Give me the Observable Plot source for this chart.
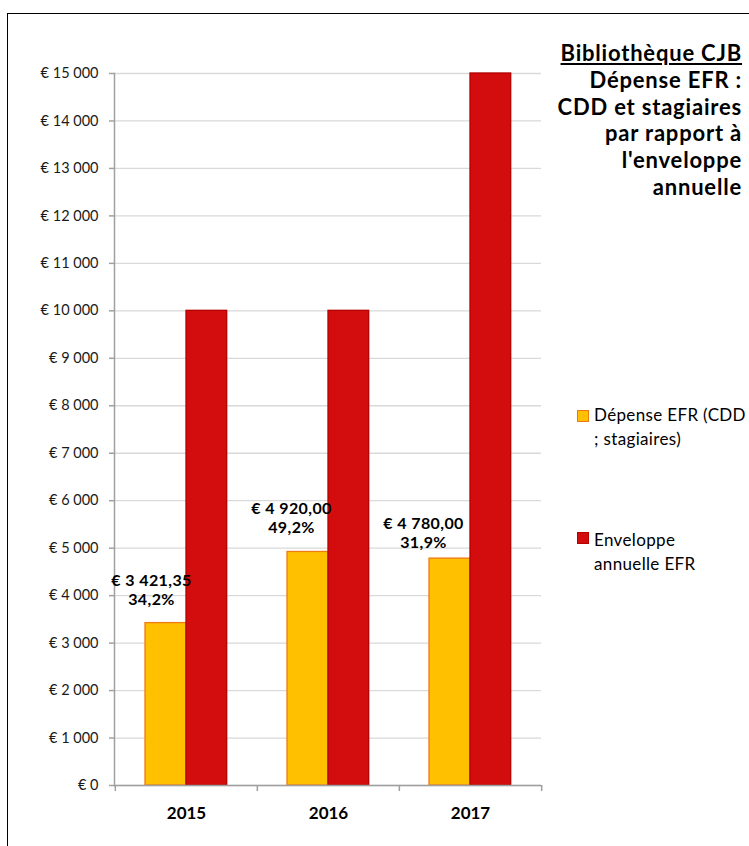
<!DOCTYPE html>
<html><head><meta charset="utf-8">
<script src="https://cdn.jsdelivr.net/npm/d3@7"></script>
<script src="https://cdn.jsdelivr.net/npm/@observablehq/plot@0.6"></script>
<style>
body{margin:0;background:#fff;font-family:Lato, "Open Sans", sans-serif;}
#wrap{position:relative;width:749px;height:846px;overflow:hidden;background:#fff;}
#border{position:absolute;left:7px;top:13px;width:800px;height:900px;border-left:1px solid #000;border-top:1px solid #000;pointer-events:none;}
#chart{position:absolute;left:0;top:0;}
#title{position:absolute;right:7px;top:40px;text-align:right;font-weight:bold;font-size:22px;line-height:26.8px;letter-spacing:0.8px;color:#000;white-space:nowrap;}
#title .u{text-decoration:underline;}
.leg{position:absolute;left:594px;font-size:17px;line-height:24px;color:#000;white-space:nowrap;letter-spacing:0.35px;}
.sw{position:absolute;left:577px;width:10px;height:10px;}
</style>
</head><body>
<div id="wrap">
  <div id="chart"></div>
  <div id="border"></div>
  <div id="title"></div>
  <div id="legend"></div>
</div>
<script>
// ---- data ----
const years = ["2015", "2016", "2017"];
const depense = [3421.35, 4920.00, 4780.00];
const enveloppe = [10000, 10000, 15000];
const yTicks = d3.range(0, 15001, 1000);
const seriesNames = ["Dépense EFR (CDD\n; stagiaires)", "Enveloppe\nannuelle EFR"];
const titleLines = ["Bibliothèque CJB", "Dépense EFR :", "CDD et stagiaires", "par rapport à", "l'enveloppe", "annuelle"];

// ---- layout / style ----
const colors = {yFill: "#FFC000", yStroke: "#EE7A12", rFill: "#D30D0D", rStroke: "#B40000"};
const labelNudge = [[-35, -34], [-37, -35], [-47, -26]];

const loc = d3.formatLocale({decimal: ",", thousands: "\u00a0", grouping: [3], currency: ["€ ", ""]});
const fmtInt = loc.format(",");
const fmtMoney = loc.format(",.2f");

const rows = years.map((y, i) => ({year: y, dep: depense[i], env: enveloppe[i]}));
const W = 749, H = 846, mL = 114, mR = 208, mT = 73, mB = 61;
const bw = (W - mL - mR) / years.length;

const marks = [
  Plot.gridY({ticks: yTicks, stroke: "#d9d9d9", strokeOpacity: 1, strokeWidth: 1.3}),
  Plot.barY(rows, {x: "year", y: "dep", fill: colors.yFill, stroke: colors.yStroke, strokeWidth: 1.3, insetLeft: 30, insetRight: 71.3}),
  Plot.barY(rows, {x: "year", y: "env", fill: colors.rFill, stroke: colors.rStroke, strokeWidth: 1.3, insetLeft: 71, insetRight: 30.3}),
  Plot.frame({anchor: "left", stroke: "#a0a0a0", strokeWidth: 1.5}),
  Plot.ruleY([0], {stroke: "#a0a0a0", strokeWidth: 1.5}),
  Plot.ruleX(years, {x: d => d, y1: 0, y2: 0, insetBottom: -6, dx: -bw / 2, stroke: "#a0a0a0", strokeWidth: 1.5}),
  Plot.ruleX(years.slice(-1), {x: d => d, y1: 0, y2: 0, insetBottom: -6, dx: bw / 2, stroke: "#a0a0a0", strokeWidth: 1.5}),
  Plot.axisY({ticks: yTicks, tickSize: 5, tickPadding: 11, tickFormat: d => "€\u00a0" + fmtInt(d), fontSize: 14.5, stroke: "#a0a0a0", strokeWidth: 1.5, fill: "#1a1a1a", label: null}),
  Plot.text(years, {x: d => d, y: 0, dy: 28, text: d => d, fontSize: 17, fontWeight: "bold", lineAnchor: "middle", fill: "#000"}),
  ...rows.map((r, i) => Plot.text([r], {
    x: "year", y: "dep",
    text: d => "€\u00a0" + fmtMoney(d.dep) + "\n" + (d.dep / d.env * 100).toFixed(1).replace(".", ",") + "%",
    dx: labelNudge[i][0], dy: labelNudge[i][1],
    lineAnchor: "middle", lineHeight: 1.2, fontSize: 16, fontWeight: "bold", fill: "#000"
  }))
];

const chart = Plot.plot({
  width: W, height: H,
  marginLeft: mL, marginRight: mR, marginTop: mT, marginBottom: mB,
  style: {fontFamily: "Lato, 'Open Sans', sans-serif", background: "transparent", overflow: "visible"},
  x: {domain: years, padding: 0, axis: null},
  y: {domain: [0, 15000]},
  marks
});
document.getElementById("chart").appendChild(chart);
chart.querySelectorAll("g[aria-label='text'] text").forEach(n => {
  if (n.textContent.includes("€")) n.style.letterSpacing = "0.4px";
});

// title
const t = document.getElementById("title");
titleLines.forEach((s, i) => {
  const d = document.createElement("div");
  d.textContent = s;
  if (i === 0) d.className = "u";
  t.appendChild(d);
});

// legend
const lg = document.getElementById("legend");
const legendItems = [
  {name: seriesNames[0], fill: colors.yFill, stroke: colors.yStroke, swTop: 410, txtTop: 403},
  {name: seriesNames[1], fill: colors.rFill, stroke: colors.rStroke, swTop: 532, txtTop: 528}
];
legendItems.forEach(it => {
  const sw = document.createElement("div");
  sw.className = "sw";
  sw.style.top = it.swTop + "px";
  sw.style.background = it.fill;
  sw.style.border = "1.5px solid " + it.stroke;
  lg.appendChild(sw);
  const tx = document.createElement("div");
  tx.className = "leg";
  tx.style.top = it.txtTop + "px";
  tx.innerHTML = it.name.split("\n").map(s => s.replace(/&/g, "&amp;").replace(/</g, "&lt;")).join("<br>");
  lg.appendChild(tx);
});
</script>
</body></html>
